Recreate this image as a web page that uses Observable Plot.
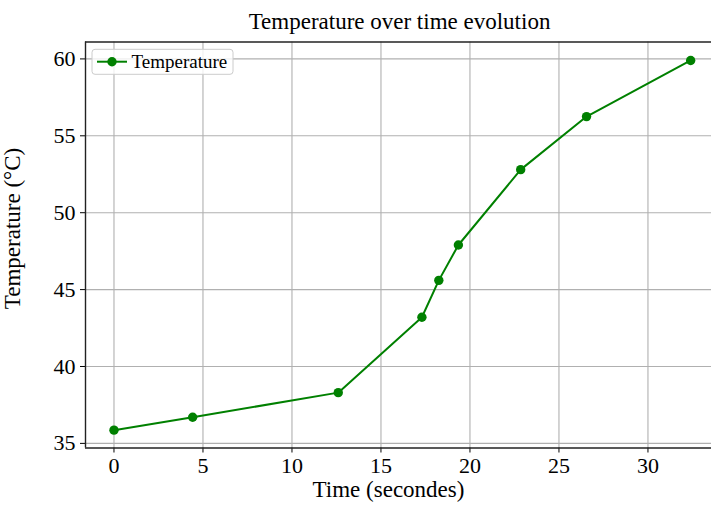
<!DOCTYPE html>
<html><head><meta charset="utf-8">
<script src="https://cdn.jsdelivr.net/npm/d3@7"></script>
<script src="https://cdn.jsdelivr.net/npm/@observablehq/plot@0.6"></script>
<style>body{margin:0;background:#fff} svg{display:block}</style>
</head><body><div id="chart"></div>
<script>
const time = [0, 4.42, 12.6, 17.3, 18.25, 19.35, 22.85, 26.55, 32.4];
const temperature = [35.86, 36.7, 38.3, 43.2, 45.6, 47.9, 52.8, 56.25, 59.9];
const xTicks = [0, 5, 10, 15, 20, 25, 30];
const yTicks = [35, 40, 45, 50, 55, 60];
const titleText = "Temperature over time evolution";
const xLabelText = "Time (secondes)";
const yLabelText = "Temperature (°C)";
const seriesName = "Temperature";

const data = time.map((t, i) => ({time: t, temperature: temperature[i]}));
const xDomain = [-1.6, 33.57];
const yDomain = [34.7, 61.1];
const font = "'Liberation Serif', 'Times New Roman', serif";
const green = "#008000";
const gridColor = "#b0b0b0";
const frameColor = "#222";

const chart = Plot.plot({
  width: 711, height: 506,
  marginLeft: 85, marginRight: 0, marginTop: 41.5, marginBottom: 58.5,
  style: {fontFamily: font, fontSize: "22px", background: "#fff", color: "#000", overflow: "visible"},
  x: {domain: xDomain, label: null},
  y: {domain: yDomain, label: null},
  marks: [
    Plot.gridX(xTicks, {stroke: gridColor, strokeOpacity: 1, strokeWidth: 1.1}),
    Plot.gridY(yTicks, {stroke: gridColor, strokeOpacity: 1, strokeWidth: 1.1}),
    Plot.axisX(xTicks, {tickSize: 5, tickPadding: 4, fontSize: 22, label: null, stroke: "#000"}),
    Plot.axisY(yTicks, {tickSize: 5, tickPadding: 5, fontSize: 22, label: null, stroke: "#000"}),
    Plot.ruleY([yDomain[0], yDomain[1]], {stroke: frameColor, strokeWidth: 1.4}),
    Plot.ruleX([xDomain[0]], {stroke: frameColor, strokeWidth: 1.4}),
    Plot.line(data, {x: "time", y: "temperature", stroke: green, strokeWidth: 2}),
    Plot.dot(data, {x: "time", y: "temperature", r: 4.7, fill: green, stroke: "none"}),
    Plot.text([titleText], {frameAnchor: "top", lineAnchor: "middle", textAnchor: "middle", dx: 1, dy: -20.4, fontSize: 23, fill: "#000"}),
    Plot.text([xLabelText], {frameAnchor: "bottom", lineAnchor: "middle", textAnchor: "middle", dx: -10, dy: 41.8, fontSize: 23, fill: "#000"}),
    Plot.text([yLabelText], {frameAnchor: "left", lineAnchor: "middle", textAnchor: "middle", rotate: -90, dx: -72.4, dy: -16.5, fontSize: 23, fill: "#000"})
  ]
});

// legend
const svg = d3.select(chart);
const lg = svg.append("g").attr("class", "legend").attr("text-anchor", "start");
lg.append("rect").attr("x", 92).attr("y", 49.3).attr("width", 141).attr("height", 25).attr("rx", 3)
  .attr("fill", "#fff").attr("fill-opacity", 0.8).attr("stroke", "#ccc").attr("stroke-width", 1);
lg.append("line").attr("x1", 97).attr("x2", 127).attr("y1", 61.7).attr("y2", 61.7)
  .attr("stroke", green).attr("stroke-width", 2).attr("fill", "none");
lg.append("circle").attr("cx", 112).attr("cy", 61.7).attr("r", 4.7).attr("fill", green);
lg.append("text").attr("x", 131.5).attr("y", 67.8).attr("font-size", 19).attr("font-family", font)
  .attr("text-anchor", "start").attr("fill", "#000").text(seriesName);

document.getElementById("chart").appendChild(chart);
</script>
</body></html>
